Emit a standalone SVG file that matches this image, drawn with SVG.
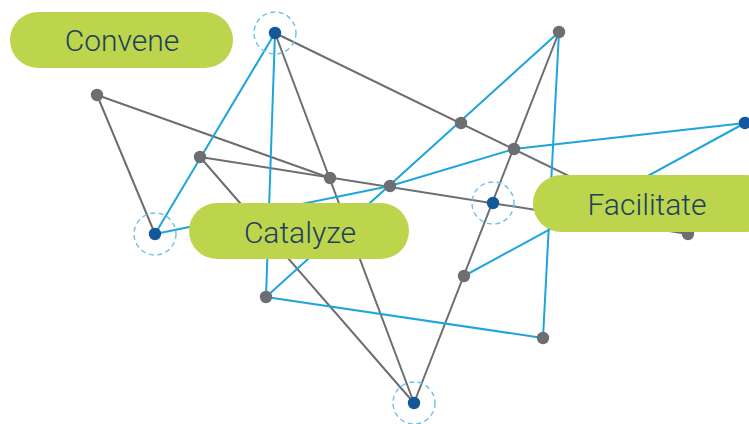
<svg xmlns="http://www.w3.org/2000/svg" width="749" height="424" viewBox="0 0 749 424">
  <style>
    .gray { stroke: #6d6e71; stroke-width: 2; fill: none; stroke-linecap: round; }
    .blue { stroke: #1da5dc; stroke-width: 2; fill: none; stroke-linecap: round; }
    .node-gray { fill: #6d6e71; }
    .node-hub { fill: #14579a; }
    .halo { fill: none; stroke: #6fc0e8; stroke-width: 1.4; stroke-dasharray: 5 3.5; }
    .pill { fill: #bcd54c; }
    .label { font-family: Roboto, "Liberation Sans", sans-serif; font-weight: 300; font-size: 30px; fill: #21405f; text-anchor: middle; }
  </style>

  <!-- connectors -->
  <g id="connectors">
    <!-- gray links -->
    <line class="gray" x1="97" y1="95" x2="155" y2="234"/>
    <line class="gray" x1="97" y1="95" x2="330" y2="178"/>
    <line class="gray" x1="200" y1="157" x2="688" y2="234"/>
    <line class="gray" x1="200" y1="157" x2="414" y2="403"/>
    <line class="gray" x1="275" y1="33" x2="414" y2="403"/>
    <line class="gray" x1="275" y1="33" x2="688" y2="234"/>
    <line class="gray" x1="559" y1="32" x2="414" y2="403"/>
    <!-- blue links -->
    <line class="blue" x1="275" y1="33" x2="155" y2="234"/>
    <line class="blue" x1="275" y1="33" x2="266" y2="297"/>
    <polyline class="blue" points="155,234 390,186 514,149 745,123"/>
    <line class="blue" x1="266" y1="297" x2="559" y2="32"/>
    <line class="blue" x1="559" y1="32" x2="543" y2="338"/>
    <line class="blue" x1="266" y1="297" x2="543" y2="338"/>
    <line class="blue" x1="464" y1="276" x2="745" y2="123"/>
  </g>

  <!-- nodes -->
  <g id="node-a"><circle class="halo" cx="275" cy="33" r="21"/><circle class="node-hub" cx="275" cy="33" r="6.2"/></g>
  <g id="node-b"><circle class="node-gray" cx="97" cy="95" r="6.2"/></g>
  <g id="node-c"><circle class="node-gray" cx="200" cy="157" r="6.2"/></g>
  <g id="node-d"><circle class="halo" cx="155" cy="234" r="21"/><circle class="node-hub" cx="155" cy="234" r="6.2"/></g>
  <g id="node-e"><circle class="node-gray" cx="330" cy="178" r="6.2"/></g>
  <g id="node-f"><circle class="node-gray" cx="390" cy="186" r="6.2"/></g>
  <g id="node-g"><circle class="node-gray" cx="461" cy="123" r="6.2"/></g>
  <g id="node-h"><circle class="node-gray" cx="514" cy="149" r="6.2"/></g>
  <g id="node-i"><circle class="node-gray" cx="559" cy="32" r="6.2"/></g>
  <g id="node-j"><circle class="halo" cx="493" cy="203" r="21"/><circle class="node-hub" cx="493" cy="203" r="6.2"/></g>
  <g id="node-k"><circle class="node-hub" cx="745" cy="123" r="6.2"/></g>
  <g id="node-l"><circle class="node-gray" cx="688" cy="234" r="6.2"/></g>
  <g id="node-m"><circle class="node-gray" cx="464" cy="276" r="6.2"/></g>
  <g id="node-n"><circle class="node-gray" cx="266" cy="297" r="6.2"/></g>
  <g id="node-o"><circle class="node-gray" cx="543" cy="338" r="6.2"/></g>
  <g id="node-p"><circle class="halo" cx="414" cy="403" r="21"/><circle class="node-hub" cx="414" cy="403" r="6.2"/></g>

  <!-- labels -->
  <g id="convene">
    <rect class="pill" x="10" y="12" width="223" height="56" rx="28"/>
    <text class="label" x="122" y="51">Convene</text>
  </g>
  <g id="catalyze">
    <rect class="pill" x="189" y="203" width="220" height="56" rx="28"/>
    <text class="label" x="300" y="243">Catalyze</text>
  </g>
  <g id="facilitate">
    <rect class="pill" x="533" y="175" width="240" height="57" rx="28.5"/>
    <text class="label" x="647" y="215">Facilitate</text>
  </g>
</svg>
